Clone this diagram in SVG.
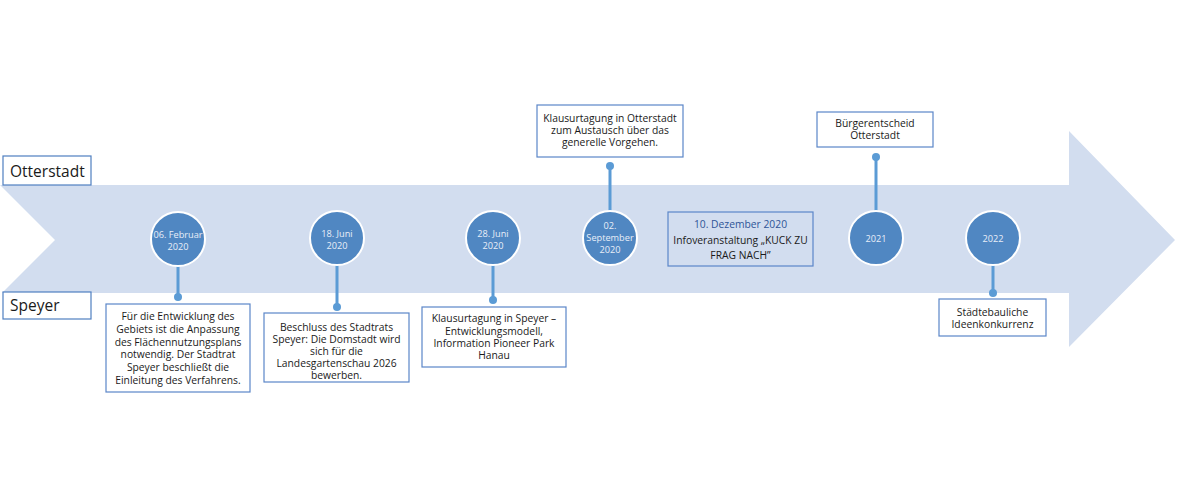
<svg xmlns="http://www.w3.org/2000/svg" width="1180" height="500" viewBox="0 0 1180 500">
<style>
.box{fill:#fff;stroke:#5b86c8;stroke-width:1.2}
.lbl{fill:#fff;stroke:#4f7fc0;stroke-width:1.2}
.circ{fill:#5087c2;stroke:#fff;stroke-width:2}
.ct{font-family:"Open Sans","Liberation Sans",sans-serif;font-size:9.2px;fill:#e8eef8;text-anchor:middle}
.bt{font-family:"Open Sans","Liberation Sans",sans-serif;font-size:10.3px;fill:#1a1a1a;text-anchor:middle}
.lt{font-family:"Open Sans","Liberation Sans",sans-serif;font-size:15.5px;fill:#1a1a1a}
.con{stroke:#5b9bd5;stroke-width:3;fill:none}
.dot{fill:#5b9bd5}
</style>
<rect width="1180" height="500" fill="#fff"/>
<polygon points="0,185 1069,185 1069,131 1175,240 1069,347 1069,293 2,293 55,240" fill="#d2ddef"/>
<g id="label-otterstadt"><rect class="lbl" x="3" y="156" width="88" height="29"/><text class="lt" x="10" y="177">Otterstadt</text></g>
<g id="label-speyer"><rect class="lbl" x="3" y="292" width="88" height="27"/><text class="lt" x="10" y="311">Speyer</text></g>
<g id="connectors">
<line class="con" x1="178" y1="266" x2="178" y2="297"/><circle class="dot" cx="178" cy="297" r="4"/>
<line class="con" x1="337" y1="265" x2="337" y2="307"/><circle class="dot" cx="337" cy="307" r="4"/>
<line class="con" x1="493" y1="265" x2="493" y2="300"/><circle class="dot" cx="493" cy="300" r="4"/>
<line class="con" x1="610" y1="211" x2="610" y2="166"/><circle class="dot" cx="610" cy="166" r="4"/>
<line class="con" x1="876" y1="211" x2="876" y2="157"/><circle class="dot" cx="876" cy="157" r="4"/>
<line class="con" x1="993" y1="265" x2="993" y2="293"/><circle class="dot" cx="993" cy="293" r="4"/>
</g>
<g id="n1"><circle class="circ" cx="178" cy="239" r="27"/><text class="ct" x="178" y="238">06. Februar</text><text class="ct" x="178" y="250">2020</text></g>
<g id="b1"><rect class="box" x="106" y="304" width="144" height="88"/>
<text class="bt" x="178" y="320">Für die Entwicklung des</text><text class="bt" x="178" y="333">Gebiets ist die Anpassung</text><text class="bt" x="178" y="345.5">des Flächennutzungsplans</text><text class="bt" x="178" y="358">notwendig. Der Stadtrat</text><text class="bt" x="178" y="371">Speyer beschließt die</text><text class="bt" x="178" y="384">Einleitung des Verfahrens.</text></g>
<g id="n2"><circle class="circ" cx="337" cy="238" r="27"/><text class="ct" x="337" y="237">18. Juni</text><text class="ct" x="337" y="249">2020</text></g>
<g id="b2"><rect class="box" x="264" y="313" width="145" height="69"/>
<text class="bt" x="336.5" y="331">Beschluss des Stadtrats</text><text class="bt" x="336.5" y="343">Speyer: Die Domstadt wird</text><text class="bt" x="336.5" y="355">sich für die</text><text class="bt" x="336.5" y="367">Landesgartenschau 2026</text><text class="bt" x="336.5" y="379">bewerben.</text></g>
<g id="n3"><circle class="circ" cx="493" cy="238" r="27"/><text class="ct" x="493" y="237">28. Juni</text><text class="ct" x="493" y="249">2020</text></g>
<g id="b3"><rect class="box" x="422" y="307" width="144" height="60"/>
<text class="bt" x="494" y="322">Klausurtagung in Speyer –</text><text class="bt" x="494" y="335">Entwicklungsmodell,</text><text class="bt" x="494" y="347">Information Pioneer Park</text><text class="bt" x="494" y="359">Hanau</text></g>
<g id="n4"><circle class="circ" cx="610" cy="238" r="27"/><text class="ct" x="610" y="229">02.</text><text class="ct" x="610" y="241">September</text><text class="ct" x="610" y="253">2020</text></g>
<g id="b4"><rect class="box" x="537" y="105" width="146" height="52"/>
<text class="bt" x="610" y="122">Klausurtagung in Otterstadt</text><text class="bt" x="610" y="134">zum Austausch über das</text><text class="bt" x="610" y="146">generelle Vorgehen.</text></g>
<g id="b-dez"><rect class="box" x="668" y="212" width="145" height="54" style="fill:#d2ddef"/>
<text class="bt" x="740.5" y="228" style="fill:#2f5597">10. Dezember 2020</text><text class="bt" x="740.5" y="244">Infoveranstaltung „KUCK ZU</text><text class="bt" x="740.5" y="259">FRAG NACH”</text></g>
<g id="n5"><circle class="circ" cx="876" cy="238" r="27"/><text class="ct" x="876" y="242">2021</text></g>
<g id="b5"><rect class="box" x="817" y="112" width="116" height="35"/>
<text class="bt" x="875" y="127">Bürgerentscheid</text><text class="bt" x="875" y="139">Otterstadt</text></g>
<g id="n6"><circle class="circ" cx="993" cy="238" r="27"/><text class="ct" x="993" y="242">2022</text></g>
<g id="b6"><rect class="box" x="939" y="299" width="107" height="37"/>
<text class="bt" x="992.5" y="316">Städtebauliche</text><text class="bt" x="992.5" y="328">Ideenkonkurrenz</text></g>
</svg>
